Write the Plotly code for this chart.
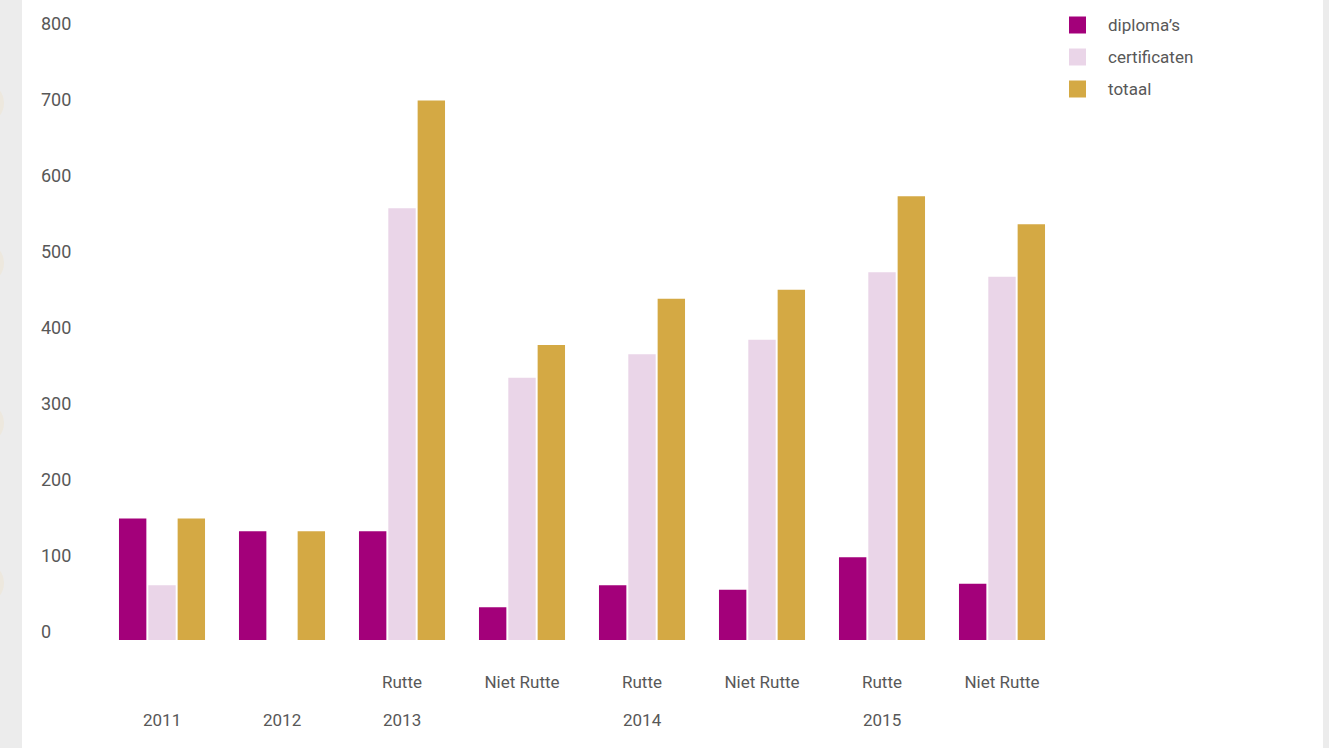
import plotly.graph_objects as go

# ---- data ----
groups = ["", "", "Rutte", "Niet Rutte", "Rutte", "Niet Rutte", "Rutte", "Niet Rutte"]
years = ["2011", "2012", "2013", "", "2014", "", "2015", ""]
series_names = ["diploma\u2019s", "certificaten", "totaal"]
diplomas = [160, 143, 143, 43, 72, 66, 109, 74]
certificaten = [72, None, 568, 345, 376, 395, 484, 478]
totaal = [160, 143, 710, 388, 449, 461, 584, 547]
y_ticks = [0, 100, 200, 300, 400, 500, 600, 700, 800]

colors = ["#A3007A", "#EAD5E8", "#D4A944"]
FONT = "Roboto, 'Open Sans', sans-serif"
TXT = "#585858"

W, H = 1329, 748
PXU = 0.76          # pixels per unit on y
ZERO_PX = 640       # pixel row of y=0
L, R_EDGE, TOP, BOTTOM = 38, 1062, 10, 652
PW = R_EDGE - L
PH = BOTTOM - TOP
Y_MIN = -(BOTTOM - ZERO_PX) / PXU
Y_MAX = (ZERO_PX - TOP) / PXU

def px_x(px):
    return (px - L) / PW

def px_y(py):
    return (BOTTOM - py) / PH

idx = list(range(len(groups)))
fig = go.Figure()
for name, vals, c in zip(series_names, [diplomas, certificaten, totaal], colors):
    fig.add_trace(go.Bar(x=idx, y=vals, name=name, marker=dict(color=c, line=dict(width=0)),
                         showlegend=False))

shapes = []
annotations = []
# side strips
shapes.append(dict(type="rect", xref="paper", yref="paper", x0=px_x(-5), x1=px_x(22),
                   y0=px_y(-5), y1=px_y(753), fillcolor="#ececec", line=dict(width=0), layer="below"))
shapes.append(dict(type="rect", xref="paper", yref="paper", x0=px_x(1323), x1=px_x(1335),
                   y0=px_y(-5), y1=px_y(753), fillcolor="#ececec", line=dict(width=0), layer="below"))
# faint decorative circles at the left edge
for cy in [103, 263, 423, 583]:
    shapes.append(dict(type="circle", xref="paper", yref="paper", x0=px_x(-26), x1=px_x(4),
                       y0=px_y(cy + 18), y1=px_y(cy - 18), fillcolor="#ede8de",
                       line=dict(width=0), layer="below"))
shapes.append(dict(type="rect", xref="paper", yref="paper", x0=px_x(22), x1=px_x(30),
                   y0=px_y(-5), y1=px_y(753), fillcolor="#ffffff", line=dict(width=0), layer="below"))

# manual legend
for i, (name, c) in enumerate(zip(series_names, colors)):
    cy = 25 + 32 * i
    shapes.append(dict(type="rect", xref="paper", yref="paper", x0=px_x(1069), x1=px_x(1086),
                       y0=px_y(cy + 8.5), y1=px_y(cy - 8.5), fillcolor=c, line=dict(width=0)))
    annotations.append(dict(xref="paper", yref="paper", x=px_x(1106), y=px_y(cy), text=name,
                            showarrow=False, xanchor="left", yanchor="middle",
                            font=dict(family=FONT, size=17, color=TXT)))

# year labels
for i, yr in enumerate(years):
    if yr:
        annotations.append(dict(xref="x", yref="paper", x=i, y=px_y(720), text=yr,
                                showarrow=False, xanchor="center", yanchor="middle",
                                font=dict(family=FONT, size=17, color=TXT)))

fig.update_layout(
    width=W, height=H,
    margin=dict(l=L, r=W - R_EDGE, t=TOP, b=H - BOTTOM, pad=0),
    paper_bgcolor="#ffffff", plot_bgcolor="rgba(0,0,0,0)",
    barmode="group", bargap=0.2667, bargroupgap=0.0667,
    shapes=shapes, annotations=annotations,
    font=dict(family=FONT, color=TXT),
    xaxis=dict(range=[(L - 162) / 120, 7.5], tickvals=idx, ticktext=groups,
               showgrid=False, zeroline=False, showline=False, ticks="",
               tickfont=dict(family=FONT, size=17, color=TXT), ticklabelstandoff=18),
    yaxis=dict(range=[Y_MIN, Y_MAX], tickvals=y_ticks, showgrid=False, zeroline=False,
               showline=False, ticks="", ticklabelposition="inside", ticklabelshift=-8,
               tickfont=dict(family=FONT, size=18, color=TXT)),
)

fig.write_html("out.html", config={"displayModeBar": False},
               post_script="document.body.style.margin='0';")
